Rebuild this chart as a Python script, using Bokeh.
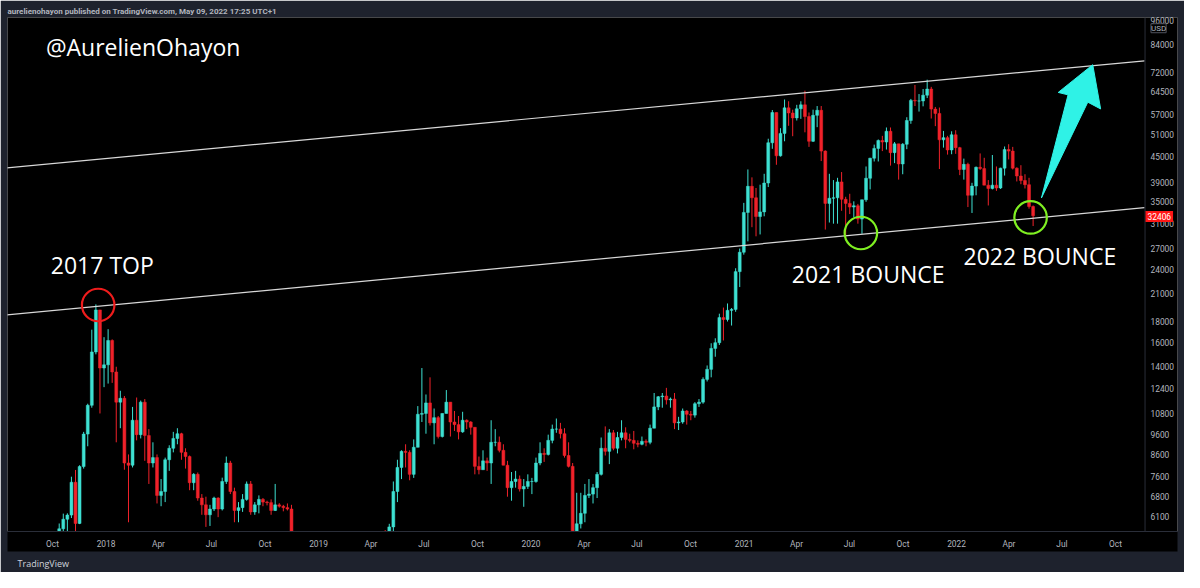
import numpy as np
import pandas as pd
from bokeh.plotting import figure
from bokeh.models import (Range1d, FixedTicker, NumeralTickFormatter, Label, ColumnDataSource,
                          Title, Span)
from bokeh.embed import file_html
from bokeh.resources import INLINE

# ---------------- data: weekly BTC/USD candles ----------------
first_week = "2017-10-02"
first_open = 4390
week_high = [
    # 2017
    4620, 5860, 6190, 6200, 7600, 7890, 8100, 9750, 11400, 17200, 19800, 19200, 16500,
    # 2018
    17250, 16300, 14000, 12250, 11900, 8600, 11200, 11800, 11600, 11700, 9900, 9200, 8600,
    7500, 8450, 9050, 9750, 9950, 9700, 8900, 8550, 7750, 7780, 6900, 6800, 6500, 6800,
    6780, 7560, 8500, 8300, 7150, 6600, 6900, 7400, 7420, 6600, 6850, 6750, 6650, 6700,
    7300, 6560, 6500, 6550, 6500, 5550, 4350, 4200, 3600, 4200, 4250, 4100,
    # 2019
    4100, 3750, 3650, 3600, 3700, 3700, 4200, 3950, 3950, 4100, 4100, 4150, 5300, 5470,
    5600, 5650, 5850, 7400, 8350, 8800, 9100, 8800, 9350, 11250, 13900, 12000, 13200,
    11100, 10650, 10800, 12300, 11500, 10950, 10650, 10900, 10450, 10350, 10000, 8500,
    8800, 8450, 10400, 9900, 9500, 9100, 8300, 7800, 7850, 7650, 7500, 7700, 7550,
    # 2020
    8450, 9200, 8900, 9600, 10150, 10500, 10250, 9950, 9200, 8200, 6950, 6950, 7300, 7500,
    7300, 7800, 9450, 10050, 9900, 9850, 9750, 10400, 10000, 9650, 9800, 9300, 9500, 9350,
    10150, 12100, 11900, 12100, 12450, 11800, 12100, 10600, 11100, 11000, 10950, 11500,
    11700, 13200, 14100, 15950, 16400, 18800, 19450, 19900, 19400, 24200, 27000, 34800,
    # 2021
    41900, 40100, 37800, 38500, 40900, 49700, 58300, 57500, 52700, 61800, 61200, 58400,
    60000, 61200, 64900, 57500, 58400, 59600, 59600, 46600, 40900, 39500, 40000, 41300,
    36000, 36600, 35100, 34600, 34500, 42600, 44700, 48100, 49500, 50500, 52900, 52900,
    48800, 48000, 48500, 56000, 62000, 67000, 63700, 65500, 69000, 66300, 59300, 59100,
    51900, 50500, 51800, 52100,
    # 2022
    47500, 44500, 43500, 38900, 42600, 45800, 44700, 39500, 45400, 42600, 42300, 47600,
    48200, 47500, 42400, 42900, 40800, 40000, 34300,
]
week_low = [
    # 2017
    4160, 4560, 5100, 5460, 6040, 5550, 5840, 7950, 9000, 11150, 15000, 10800, 12500,
    # 2018
    12750, 12800, 9200, 9950, 7900, 5900, 8000, 9300, 9400, 8300, 7300, 8000, 6550, 6450,
    6600, 7850, 8700, 9100, 8350, 7950, 7050, 7050, 6650, 6150, 5750, 5780, 6280, 6070,
    6300, 7300, 6900, 5900, 5900, 6250, 6650, 6150, 6150, 6200, 6450, 6480, 6150, 6280,
    6400, 6270, 6300, 5300, 3550, 3700, 3300, 3200, 3250, 3550, 3700,
    # 2019
    3550, 3500, 3450, 3380, 3370, 3550, 3620, 3700, 3700, 3850, 3950, 3900, 4100, 4900,
    5000, 5100, 5150, 5600, 6600, 7500, 8000, 7450, 7550, 8950, 10300, 9650, 10100, 9100,
    9400, 9450, 10800, 9500, 9800, 9350, 9700, 9900, 9600, 7700, 7700, 7900, 7850, 7300,
    9000, 8700, 8100, 6800, 6650, 7150, 7000, 6430, 7100, 6900,
    # 2020
    7350, 8100, 8250, 8550, 9150, 9700, 9400, 8450, 8000, 3800, 4400, 5700, 5900, 6750,
    6550, 6750, 7650, 8550, 8150, 8800, 8650, 9300, 8900, 9200, 8850, 8950, 9050, 9000,
    9100, 9950, 11000, 11150, 11350, 11150, 9900, 9850, 10200, 10150, 10400, 10550, 11200,
    11400, 12900, 13200, 14800, 15800, 16200, 18000, 17600, 19000, 21800, 26100,
    # 2021
    28100, 30400, 28900, 29200, 32300, 38000, 47000, 43000, 45000, 49000, 53400, 50400,
    55000, 55500, 51500, 47500, 48800, 53000, 43900, 30000, 31200, 31000, 31000, 33300,
    28800, 32700, 32100, 31000, 29300, 35000, 37500, 43800, 43800, 46400, 46800, 42800,
    43400, 39600, 40800, 46900, 54000, 59600, 57800, 59500, 62300, 55600, 53300, 42000,
    47300, 45500, 45600, 45700,
    # 2022
    40600, 39600, 34000, 32900, 36300, 41800, 39500, 34300, 37500, 37200, 37600, 40500,
    44300, 41900, 39200, 38600, 37700, 33700, 30600,
]
week_close = [
    # 2017
    4610, 5690, 6000, 6140, 7370, 5860, 8040, 9630, 11300, 15200, 19200, 13900, 14150,
    # 2018
    16200, 13600, 11500, 11750, 8200, 8100, 10400, 9600, 11500, 9550, 8200, 8450, 6850,
    7000, 8350, 8900, 9400, 9650, 8700, 8500, 7350, 7700, 6750, 6500, 6150, 6350, 6750,
    6350, 7400, 8200, 7000, 6300, 6400, 6700, 7300, 6250, 6500, 6700, 6600, 6580, 6300,
    6500, 6450, 6400, 6350, 5550, 4000, 4150, 3600, 3250, 4000, 3900, 4030,
    # 2019
    3550, 3550, 3550, 3420, 3650, 3650, 3850, 3850, 3900, 4000, 4050, 4100, 5050, 5050,
    5300, 5200, 5750, 7000, 8000, 8750, 8700, 7700, 8950, 10750, 10800, 11450, 10250,
    10550, 9500, 10800, 11500, 10300, 10150, 9750, 10400, 10300, 10000, 8050, 7900, 8300,
    8200, 9200, 9200, 8800, 8100, 7150, 7400, 7500, 7100, 7200, 7400, 7400,
    # 2020
    8200, 8650, 8600, 9300, 9900, 9900, 9650, 8550, 8050, 5350, 5850, 6200, 6850, 6900,
    7150, 7700, 8900, 8750, 9700, 8900, 9450, 9700, 9350, 9300, 9150, 9100, 9250, 9200,
    9950, 11200, 11850, 11900, 11650, 11700, 10250, 10300, 10950, 10750, 10700, 11400,
    11500, 13050, 13800, 15500, 16000, 18400, 18200, 19150, 19250, 23750, 26450, 33000,
    # 2021
    38150, 35800, 32250, 33100, 38850, 48600, 57500, 45200, 51200, 59000, 57350, 55800,
    58700, 60000, 56200, 49000, 56600, 58200, 46400, 34700, 35700, 35800, 39100, 35500,
    34700, 34000, 34250, 31800, 35400, 39900, 44600, 47100, 49200, 48800, 51800, 46000,
    48300, 43200, 48200, 55000, 61500, 61300, 61300, 63300, 65500, 58600, 57200, 49400,
    50000, 46700, 50800, 47300,
    # 2022
    41900, 43100, 36300, 38200, 42400, 42100, 38400, 37700, 38400, 37800, 42200, 46800,
    46400, 42200, 40400, 39400, 38500, 34100, 32406,
]
last_price = 32406

x_tick_dates = ["2017-10-01", "2018-01-01", "2018-04-01", "2018-07-01", "2018-10-01",
                "2019-01-01", "2019-04-01", "2019-07-01", "2019-10-01", "2020-01-01",
                "2020-04-01", "2020-07-01", "2020-10-01", "2021-01-01", "2021-04-01",
                "2021-07-01", "2021-10-01", "2022-01-01", "2022-04-01", "2022-07-01",
                "2022-10-01"]
x_tick_labels = ["Oct", "2018", "Apr", "Jul", "Oct", "2019", "Apr", "Jul", "Oct", "2020",
                 "Apr", "Jul", "Oct", "2021", "Apr", "Jul", "Oct", "2022", "Apr", "Jul", "Oct"]
y_tick_values = [6100, 6800, 7600, 8600, 9600, 10800, 12400, 14000, 16000, 18000, 21000,
                 24000, 27000, 31000, 35000, 39000, 45000, 51000, 57000, 64500, 72000,
                 84000, 96000]

# ---------------- helpers ----------------
DAY_MS = 86400000.0
W, H = 1184, 572
SX, SY = W / 1200.0, H / 588.0      # figure px per reference px


def ms(ts):
    return pd.Timestamp(ts).value / 1e6


# reference-pixel -> data mapping (used only to place annotations / frame edges)
def dx(px):
    return ms(pd.Timestamp("2018-01-01") + pd.Timedelta(days=(px - 107) / 0.59))


def dy(py):
    return 10 ** (np.log10(84000) - (py - 45) / 426.0)


UP = "#3ee0d2"
DOWN = "#f0222a"
BG = "#000000"
PANEL = "#1e222d"
AXIS_TXT = "#b2b5be"
SEP = "#2a2e39"

weeks = pd.date_range(first_week, periods=len(week_close), freq="7D")
opens = [first_open] + week_close[:-1]
centers = [ms(w) + 3.5 * DAY_MS for w in weeks]
src = ColumnDataSource(dict(
    x=centers,
    top=[max(o, c) for o, c in zip(opens, week_close)],
    bottom=[min(o, c) for o, c in zip(opens, week_close)],
    high=[max(h, o, c) for h, o, c in zip(week_high, opens, week_close)],
    low=[min(l, o, c) for l, o, c in zip(week_low, opens, week_close)],
    color=[UP if c >= o else DOWN for o, c in zip(opens, week_close)],
))

# frame: figure x 7..1177, y 17..531
FL, FR, FT, FB = 7, 1177, 17, 531
p = figure(width=W, height=H, x_axis_type="datetime", y_axis_type="log",
           y_axis_location="right",
           x_range=Range1d(dx(FL / SX), dx(FR / SX)),
           y_range=Range1d(dy(FB / SY), dy(FT / SY)),
           output_backend="svg", toolbar_location=None,
           min_border_left=FL, min_border_right=W - FR, min_border_top=FT,
           min_border_bottom=H - FB,
           background_fill_color=BG, border_fill_color=PANEL, outline_line_color=None)
p.grid.visible = False

# header / footer
p.title = Title(text="aurelienohayon published on TradingView.com, May 09, 2022 17:25 UTC+1",
                align="left", text_font="Roboto", text_font_size="8px",
                text_font_style="bold", text_color=AXIS_TXT, standoff=4, offset=0)
p.add_layout(Title(text="TradingView", align="left", text_font="Open Sans",
                   text_font_size="9px", text_font_style="normal", text_color="#d1d4dc",
                   standoff=6, offset=10), "below")

# axes
p.yaxis.ticker = FixedTicker(ticks=y_tick_values)
p.yaxis.formatter = NumeralTickFormatter(format="0")
p.xaxis.ticker = FixedTicker(ticks=[ms(d) for d in x_tick_dates])
p.xaxis.major_label_overrides = {ms(d): lab for d, lab in zip(x_tick_dates, x_tick_labels)}
for ax in (p.xaxis[0], p.yaxis[0]):
    ax.major_tick_line_color = None
    ax.minor_tick_line_color = None
    ax.major_tick_out = 0
    ax.major_tick_in = 0
    ax.minor_tick_out = 0
    ax.minor_tick_in = 0
    ax.axis_line_color = SEP
    ax.major_label_text_color = AXIS_TXT
    ax.major_label_text_font = "Roboto"
    ax.major_label_text_font_size = "8.4px"
    try:
        ax.background_fill_color = BG
    except Exception:
        pass
p.yaxis.axis_line_color = None
# price scale labels sit in the black strip at the right side of the pane
p.yaxis.major_label_standoff = -27
p.xaxis.major_label_standoff = 7

# price-scale separator
p.add_layout(Span(location=dx(1160), dimension="height", line_color=SEP, line_width=1))

# candles
p.segment(x0="x", y0="low", x1="x", y1="high", line_color="color", line_width=1, source=src)
p.vbar(x="x", width=5 * DAY_MS, top="top", bottom="bottom", fill_color="color",
       line_color="color", line_width=0.5, source=src)

# channel lines
for (x0, y0), (x1, y1) in [((0, 172.7), (1159.5, 62.0)), ((0, 323.7), (1159.5, 213.0))]:
    p.line([dx(x0), dx(x1)], [dy(y0), dy(y1)], line_color="#d8d8d8", line_width=1.2)

# circles
p.scatter([dx(99)], [dy(313)], marker="circle", size=32.5, fill_color=None,
          line_color="#ee1c1c", line_width=2.2)
p.scatter([dx(872), dx(1044)], [dy(239), dy(223)], marker="circle", size=32.5,
          fill_color=None, line_color="#7fef22", line_width=2.2)

# arrow
arrow_px = [(1055, 203), (1082, 97), (1072, 94.5), (1107, 66), (1115, 111.5), (1102, 104.5)]
p.patch([dx(a) for a, _ in arrow_px], [dy(b) for _, b in arrow_px],
        fill_color="#2ff2e6", line_color="#2ff2e6", line_width=1)

# texts
for txt, px, py in [("@AurelienOhayon", 46, 48), ("2017 TOP", 51, 272),
                    ("2021 BOUNCE", 802, 281), ("2022 BOUNCE", 976, 263)]:
    p.add_layout(Label(x=dx(px), y=dy(py), text=txt, text_color="white",
                       text_font="Open Sans", text_font_size="23px",
                       text_baseline="middle", text_align="left"))

usd = Label(x=dx(1166), y=dy(28.5), text="USD", text_color=AXIS_TXT,
            text_font="Roboto", text_font_size="8px",
            text_baseline="middle", text_align="left",
            border_line_color="#50535e", background_fill_color=BG)
tag = Label(x=dx(1160.5), y=dy(222), text=f"{last_price}", text_color="white",
            text_font="Roboto", text_font_size="8.4px",
            text_baseline="middle", text_align="left",
            background_fill_color="#ff1616")
for lab, pad in ((usd, 1.5), (tag, 2)):
    try:
        lab.padding = pad
    except Exception:
        pass
p.add_layout(usd)
p.add_layout(tag)

html = file_html(p, INLINE)
html = html.replace("<body>", '<body style="background-color:#1e222d;">', 1)
open("out.html", "w").write(html)
